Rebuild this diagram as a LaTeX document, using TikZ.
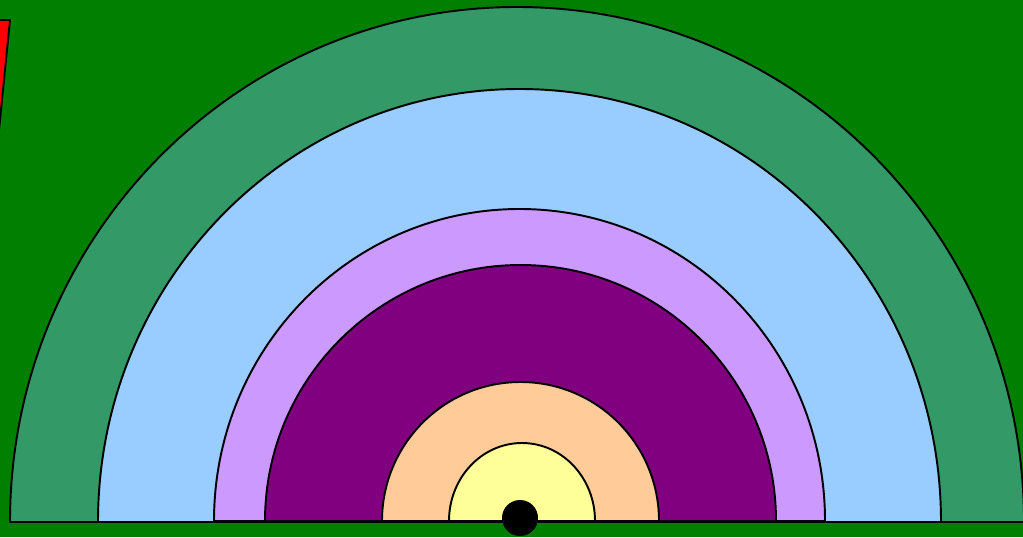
\documentclass[tikz,border=0pt]{standalone}
\usetikzlibrary{calc}
\definecolor{verdeF}{HTML}{007F00}
\definecolor{verdeM}{HTML}{339966}
\definecolor{celeste}{HTML}{99CCFF}
\definecolor{lila}{HTML}{CC99FF}
\definecolor{morado}{HTML}{800080}
\definecolor{durazno}{HTML}{FFCC99}
\definecolor{crema}{HTML}{FFFF99}
\tikzset{banda/.style={draw=black,line width=1.1pt,line join=round}}
\begin{document}
\begin{tikzpicture}[x=0.02cm,y=-0.02cm]
  \useasboundingbox (0,0) rectangle (1023,537);
  \clip (0,0) rectangle (1023,537);
  \fill[verdeF] (0,0) rectangle (1023,537);
  \draw[banda,fill=red] (-5,20) -- (10,20) -- (-2,140) -- cycle;
  % bandas, de fuera hacia dentro
  \draw[banda,fill=verdeM] (10,522) arc[start angle=180,end angle=360,x radius=507,y radius=515] -- cycle;
  \draw[banda,fill=celeste] (98,522) arc[start angle=180,end angle=360,x radius=421.5,y radius=433] -- cycle;
  \draw[banda,fill=lila] (214,521) arc[start angle=180,end angle=360,x radius=305.5,y radius=312] -- cycle;
  \draw[banda,fill=morado] (265,521) arc[start angle=180,end angle=360,x radius=255.5,y radius=256] -- cycle;
  \draw[banda,fill=durazno] (382,521) arc[start angle=180,end angle=360,x radius=138.5,y radius=139] -- cycle;
  \draw[banda,fill=crema] (449,521) arc[start angle=180,end angle=360,x radius=73,y radius=78] -- cycle;
  \fill[black] (520,518) circle(18);
\end{tikzpicture}
\end{document}
